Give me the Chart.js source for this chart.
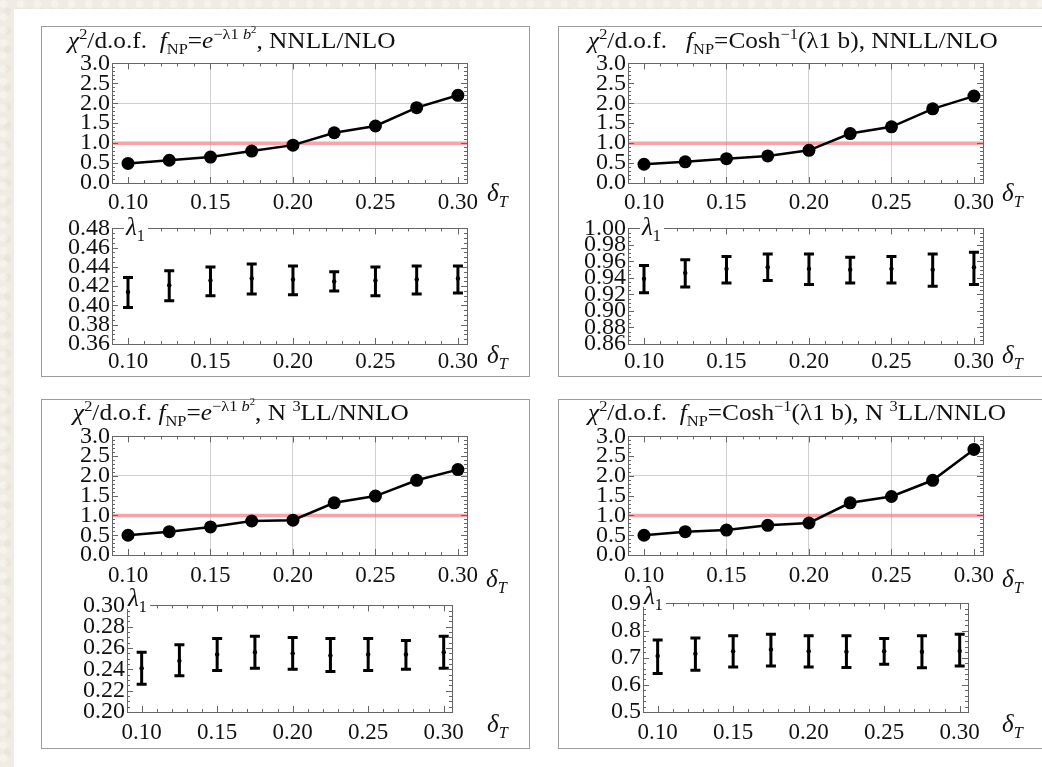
<!DOCTYPE html>
<html>
<head>
<meta charset="utf-8">
<script src="https://cdn.jsdelivr.net/npm/chart.js@4.4.1/dist/chart.umd.min.js"></script>
<style>
  body {
    margin: 0;
    width: 1042px;
    height: 767px;
    position: relative;
    overflow: hidden;
    background-color: #f0ece4;
    background-image:
      radial-gradient(circle at 20% 30%, rgba(255,255,255,0.35) 0 3px, transparent 5px),
      radial-gradient(circle at 70% 60%, rgba(210,200,180,0.18) 0 3px, transparent 5px);
    background-size: 17px 13px, 11px 19px;
    font-family: "Liberation Serif", "DejaVu Serif", serif;
    color: #111;
  }
  #sheet { position: absolute; left: 14px; top: 9px; right: 0; bottom: 0; background: #fff; }
  .box { position: absolute; border: 1px solid #9c9c9c; background: #fff; }
  canvas { position: absolute; }
  .txt { position: absolute; font-size: 25px; line-height: 22px; white-space: nowrap; z-index: 5; }
  .title { font-size: 23px; transform: scaleX(1.1); transform-origin: 0 0; }
  .txt sup, .txt sub { font-size: 65%; line-height: 0; }
  .lam { background: #fff; padding: 0 3px 0 2px; }
</style>
</head>
<body>
<div id="sheet"></div>
<div class="box" style="left:41px;top:26px;width:487px;height:349px"></div>
<div class="box" style="left:558px;top:26px;width:500px;height:349px"></div>
<div class="box" style="left:41px;top:399px;width:487px;height:348px"></div>
<div class="box" style="left:558px;top:399px;width:500px;height:348px"></div>

<div class="txt title" style="left:68px;top:30px"><i>χ</i><sup>2</sup>/d.o.f.&nbsp; <i>f</i><sub>NP</sub>=<i>e</i><sup>−λ1 <i>b</i><sup>2</sup></sup>, NNLL/NLO</div>
<div class="txt title" style="left:588px;top:30px"><i>χ</i><sup>2</sup>/d.o.f.&nbsp;&nbsp; <i>f</i><sub>NP</sub>=Cosh<sup>−1</sup>(λ1 b), NNLL/NLO</div>
<div class="txt title" style="left:73px;top:402px"><i>χ</i><sup>2</sup>/d.o.f. <i>f</i><sub>NP</sub>=<i>e</i><sup>−λ1 <i>b</i><sup>2</sup></sup>, N <sup>3</sup>LL/NNLO</div>
<div class="txt title" style="left:588px;top:402px"><i>χ</i><sup>2</sup>/d.o.f.&nbsp; <i>f</i><sub>NP</sub>=Cosh<sup>−1</sup>(λ1 b), N <sup>3</sup>LL/NNLO</div>

<div class="txt" style="left:487px;top:182px"><i>δ<sub>T</sub></i></div>
<div class="txt" style="left:487px;top:344px"><i>δ<sub>T</sub></i></div>
<div class="txt" style="left:1002px;top:182px"><i>δ<sub>T</sub></i></div>
<div class="txt" style="left:1002px;top:344px"><i>δ<sub>T</sub></i></div>
<div class="txt" style="left:486px;top:568px"><i>δ<sub>T</sub></i></div>
<div class="txt" style="left:487px;top:713px"><i>δ<sub>T</sub></i></div>
<div class="txt" style="left:1002px;top:568px"><i>δ<sub>T</sub></i></div>
<div class="txt" style="left:1002px;top:713px"><i>δ<sub>T</sub></i></div>

<div class="txt lam" style="left:124px;top:216px"><i>λ</i><sub>1</sub></div>
<div class="txt lam" style="left:640px;top:216px"><i>λ</i><sub>1</sub></div>
<div class="txt lam" style="left:126px;top:587px"><i>λ</i><sub>1</sub></div>
<div class="txt lam" style="left:642px;top:585px"><i>λ</i><sub>1</sub></div>

<script>
// delta_T values (x axis)
const deltaT = [0.10, 0.125, 0.15, 0.175, 0.20, 0.225, 0.25, 0.275, 0.30];
const xTicks = [0.10, 0.15, 0.20, 0.25, 0.30];
const chi2Ticks = [0.0, 0.5, 1.0, 1.5, 2.0, 2.5, 3.0];

// chi2/d.o.f.
const chi2NnllExp = [0.49, 0.57, 0.65, 0.80, 0.95, 1.26, 1.43, 1.89, 2.20];
const chi2NnllCosh = [0.47, 0.53, 0.61, 0.68, 0.82, 1.24, 1.41, 1.86, 2.18];
const chi2N3llExp = [0.50, 0.59, 0.71, 0.86, 0.88, 1.32, 1.49, 1.89, 2.16];
const chi2N3llCosh = [0.50, 0.59, 0.63, 0.75, 0.81, 1.32, 1.48, 1.89, 2.67];

// lambda_1 with errors
const lamNnllExp = [0.414, 0.421, 0.426, 0.428, 0.427, 0.425, 0.426, 0.427, 0.428];
const lamNnllExpLo = [0.398, 0.405, 0.410, 0.412, 0.411, 0.415, 0.410, 0.412, 0.413];
const lamNnllExpHi = [0.429, 0.436, 0.440, 0.443, 0.441, 0.435, 0.440, 0.441, 0.441];
const lamNnllExpTicks = [0.36, 0.38, 0.40, 0.42, 0.44, 0.46, 0.48];

const lamNnllCosh = [0.939, 0.946, 0.951, 0.953, 0.951, 0.950, 0.951, 0.950, 0.953];
const lamNnllCoshLo = [0.922, 0.929, 0.934, 0.937, 0.932, 0.934, 0.934, 0.930, 0.932];
const lamNnllCoshHi = [0.955, 0.962, 0.966, 0.969, 0.969, 0.965, 0.966, 0.969, 0.971];
const lamNnllCoshTicks = [0.86, 0.88, 0.90, 0.92, 0.94, 0.96, 0.98, 1.00];

const lamN3llExp = [0.241, 0.248, 0.254, 0.256, 0.255, 0.253, 0.254, 0.254, 0.256];
const lamN3llExpLo = [0.226, 0.234, 0.239, 0.241, 0.240, 0.238, 0.239, 0.240, 0.241];
const lamN3llExpHi = [0.256, 0.263, 0.269, 0.271, 0.270, 0.269, 0.269, 0.267, 0.271];
const lamN3llExpTicks = [0.20, 0.22, 0.24, 0.26, 0.28, 0.30];

const lamN3llCosh = [0.706, 0.715, 0.724, 0.730, 0.724, 0.722, 0.724, 0.722, 0.725];
const lamN3llCoshLo = [0.642, 0.654, 0.666, 0.669, 0.666, 0.664, 0.676, 0.663, 0.669];
const lamN3llCoshHi = [0.765, 0.773, 0.781, 0.786, 0.781, 0.781, 0.771, 0.781, 0.786];
const lamN3llCoshTicks = [0.5, 0.6, 0.7, 0.8, 0.9];

const xMin = 0.0903, xMax = 0.3055;
const PAD = { l: 70, t: 16, r: 50, b: 36 };
const serif = '"Liberation Serif", serif';

function makeCanvas(area) {
    let c = document.createElement('canvas');
    c.width = area.r - area.l + PAD.l + PAD.r;
    c.height = area.b - area.t + PAD.t + PAD.b;
    c.style.left = (area.l - PAD.l) + 'px';
    c.style.top = (area.t - PAD.t) + 'px';
    document.body.appendChild(c);
    return c;
}

// frame with inward ticks on all four sides, optional red reference line and error bars
function extrasPlugin(yMinor, yMajor, refValue, lo, hi) {
    return {
        id: 'extras',
        beforeDatasetsDraw(chart) {
            const ctx = chart.ctx;
            const a = chart.chartArea;
            const xs = chart.scales.x, ys = chart.scales.y;
            ctx.save();
            if (refValue !== null) {
                let py = ys.getPixelForValue(refValue);
                ctx.strokeStyle = 'rgba(242, 125, 130, 0.7)';
                ctx.lineWidth = 3.5;
                ctx.beginPath();
                ctx.moveTo(a.left, py);
                ctx.lineTo(a.right, py);
                ctx.stroke();
            }
            if (lo) {
                ctx.strokeStyle = '#000';
                ctx.lineWidth = 3;
                for (let i = 0; i < deltaT.length; i++) {
                    let px = xs.getPixelForValue(deltaT[i]);
                    let p1 = ys.getPixelForValue(lo[i]);
                    let p2 = ys.getPixelForValue(hi[i]);
                    ctx.beginPath();
                    ctx.moveTo(px, p1); ctx.lineTo(px, p2);
                    ctx.moveTo(px - 5, p1); ctx.lineTo(px + 5, p1);
                    ctx.moveTo(px - 5, p2); ctx.lineTo(px + 5, p2);
                    ctx.stroke();
                }
            }
            ctx.restore();
        },
        afterDatasetsDraw(chart) {
            const ctx = chart.ctx;
            const a = chart.chartArea;
            const xs = chart.scales.x, ys = chart.scales.y;
            ctx.save();
            ctx.strokeStyle = '#666';
            ctx.lineWidth = 1;
            ctx.strokeRect(Math.round(a.left) + 0.5, Math.round(a.top) + 0.5,
                Math.round(a.right - a.left), Math.round(a.bottom - a.top));
            ctx.beginPath();
            for (let k = 9; k <= 30; k++) {
                let v = k / 100;
                let px = Math.round(xs.getPixelForValue(v)) + 0.5;
                let len = (k % 5 === 0) ? 6 : 3;
                ctx.moveTo(px, a.bottom); ctx.lineTo(px, a.bottom - len);
                ctx.moveTo(px, a.top); ctx.lineTo(px, a.top + len);
            }
            let n = Math.round((ys.max - ys.min) / yMinor);
            for (let k = 0; k <= n; k++) {
                let v = ys.min + k * yMinor;
                let py = Math.round(ys.getPixelForValue(v)) + 0.5;
                let r = Math.abs((v - ys.min) / yMajor - Math.round((v - ys.min) / yMajor));
                let len = r < 1e-6 ? 6 : 3;
                ctx.moveTo(a.left, py); ctx.lineTo(a.left + len, py);
                ctx.moveTo(a.right, py); ctx.lineTo(a.right - len, py);
            }
            ctx.stroke();
            ctx.restore();
        }
    };
}

function baseOptions(yMin, yMax, yTicks, digits, grid, xPad) {
    return {
        responsive: false,
        animation: false,
        devicePixelRatio: 1,
        events: [],
        layout: { padding: { left: 0, top: PAD.t, right: PAD.r, bottom: 0 } },
        plugins: { legend: { display: false }, tooltip: { enabled: false } },
        scales: {
            x: {
                type: 'linear', min: xMin, max: xMax,
                afterBuildTicks: s => { s.ticks = xTicks.map(v => ({ value: v })); },
                afterFit: s => { s.height = PAD.b; },
                border: { display: false },
                grid: {
                    drawTicks: false,
                    color: c => (grid && [0.15, 0.2, 0.25].some(g => Math.abs(c.tick.value - g) < 1e-6)) ? '#d0d0d0' : 'rgba(0,0,0,0)'
                },
                ticks: {
                    padding: xPad, color: '#111', maxRotation: 0, autoSkip: false,
                    font: { family: serif, size: 23 },
                    callback: v => v.toFixed(2)
                }
            },
            y: {
                type: 'linear', min: yMin, max: yMax,
                afterBuildTicks: s => { s.ticks = yTicks.map(v => ({ value: v })); },
                afterFit: s => { s.width = PAD.l; },
                border: { display: false },
                grid: {
                    drawTicks: false,
                    color: c => (grid && Math.abs(c.tick.value - 2) < 1e-6) ? '#d0d0d0' : 'rgba(0,0,0,0)'
                },
                ticks: {
                    padding: 2, color: '#111', autoSkip: false,
                    font: { family: serif, size: 24 },
                    callback: v => v.toFixed(digits)
                }
            }
        }
    };
}

function chi2Chart(area, values, xPad) {
    let canvas = makeCanvas(area);
    return new Chart(canvas, {
        type: 'line',
        data: {
            datasets: [{
                data: deltaT.map((x, i) => ({ x: x, y: values[i] })),
                borderColor: '#000',
                borderWidth: 2.5,
                pointRadius: 6.5,
                pointBackgroundColor: '#000',
                pointBorderWidth: 0,
                tension: 0
            }]
        },
        options: baseOptions(0, 3, chi2Ticks, 1, true, xPad),
        plugins: [extrasPlugin(0.1, 0.5, 1.0, null, null)]
    });
}

function lamChart(area, mid, lo, hi, ticks, digits, yMinor, xPad) {
    let canvas = makeCanvas(area);
    return new Chart(canvas, {
        type: 'scatter',
        data: {
            datasets: [{
                data: deltaT.map((x, i) => ({ x: x, y: mid[i] })),
                pointRadius: 2.2,
                pointBackgroundColor: '#000',
                pointBorderWidth: 0,
                showLine: false
            }]
        },
        options: baseOptions(ticks[0], ticks[ticks.length - 1], ticks, digits, false, xPad),
        plugins: [extrasPlugin(yMinor, ticks[1] - ticks[0], null, lo, hi)]
    });
}

chi2Chart({ l: 112, r: 467, t: 63, b: 183 }, chi2NnllExp, 6);
lamChart({ l: 112, r: 467, t: 228, b: 344 }, lamNnllExp, lamNnllExpLo, lamNnllExpHi, lamNnllExpTicks, 2, 0.005, 4);
chi2Chart({ l: 628, r: 983, t: 63, b: 183 }, chi2NnllCosh, 6);
lamChart({ l: 628, r: 983, t: 228, b: 344 }, lamNnllCosh, lamNnllCoshLo, lamNnllCoshHi, lamNnllCoshTicks, 2, 0.005, 4);
chi2Chart({ l: 112, r: 467, t: 436, b: 555 }, chi2N3llExp, 7);
lamChart({ l: 127, r: 452, t: 605, b: 712 }, lamN3llExp, lamN3llExpLo, lamN3llExpHi, lamN3llExpTicks, 2, 0.005, 7);
chi2Chart({ l: 628, r: 983, t: 436, b: 555 }, chi2N3llCosh, 7);
lamChart({ l: 643, r: 968, t: 603, b: 712 }, lamN3llCosh, lamN3llCoshLo, lamN3llCoshHi, lamN3llCoshTicks, 1, 0.02, 7);
</script>
</body>
</html>
